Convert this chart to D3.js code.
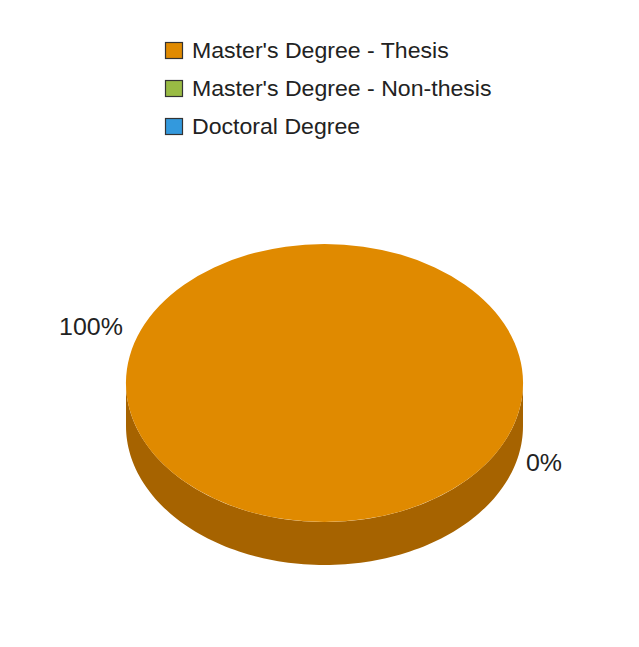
<!DOCTYPE html>
<html>
<head>
<meta charset="utf-8">
<script src="https://cdn.jsdelivr.net/npm/d3@7"></script>
<style>
  html, body { margin: 0; padding: 0; background: #ffffff; }
  svg { display: block; }
</style>
</head>
<body>
<script>
// ---- data ----
const categories = ["Master's Degree - Thesis", "Master's Degree - Non-thesis", "Doctoral Degree"];
const values = [100, 0, 0];
const sliceLabels = ["100%", "0%", "0%"];
const colors = ["#E08A00", "#99BB44", "#3399DD"];
const sideColors = ["#A66300", "#6E8A2E", "#2270A8"];

// ---- layout ----
const W = 639, H = 647;
const cx = 324.5, cy = 383, rx = 198.5, ry = 139, depth = 43;

const svg = d3.select("body").append("svg").attr("width", W).attr("height", H);

const pieData = d3.pie().sort(null).value(d => d)(values);

// map an angle (clockwise from 12 o'clock) onto the ellipse
const ex = a => cx + rx * Math.sin(a);
const ey = a => cy - ry * Math.cos(a);

const lineGen = d3.line();

// sides (front half visible: angles between PI/2 and 3PI/2)
pieData.forEach((p, i) => {
  const a0 = Math.max(p.startAngle, Math.PI / 2);
  const a1 = Math.min(p.endAngle, 3 * Math.PI / 2);
  if (a1 <= a0) return;
  const n = 120;
  const ts = d3.range(n + 1).map(k => a0 + (a1 - a0) * k / n);
  const pts = ts.map(a => [ex(a), ey(a)])
    .concat(ts.slice().reverse().map(a => [ex(a), ey(a) + depth]));
  svg.append("path")
    .attr("d", lineGen(pts) + "Z")
    .attr("fill", sideColors[i]);
});

// top faces
const arcGen = d3.arc().innerRadius(0).outerRadius(rx);
const topFace = svg.append("g")
  .attr("transform", `translate(${cx},${cy}) scale(1,${ry / rx})`);
pieData.forEach((p, i) => {
  if (p.endAngle - p.startAngle <= 0) return;
  topFace.append("path").attr("d", arcGen(p)).attr("fill", colors[i]);
});

// slice labels
const labelPos = [
  { x: cx - rx - 35, y: cy - 56 },
  { x: cx + rx + 21, y: cy + 80 }
];
labelPos.forEach((lp, i) => {
  svg.append("text")
    .attr("transform", `translate(${lp.x},${lp.y}) scale(1.04,1)`)
    .attr("text-anchor", "middle")
    .attr("dominant-baseline", "central")
    .attr("font-family", "Liberation Sans, Arial, sans-serif")
    .attr("font-size", 24)
    .attr("fill", "#222")
    .text(sliceLabels[i]);
});

// legend
const legend = svg.append("g").attr("transform", "translate(165,42)");
const rowH = 38;
categories.forEach((c, i) => {
  const g = legend.append("g").attr("transform", `translate(0,${i * rowH})`);
  g.append("rect")
    .attr("x", 0.5).attr("y", 0.5)
    .attr("width", 17).attr("height", 16)
    .attr("fill", colors[i])
    .attr("stroke", "#333").attr("stroke-width", 1.2);
  g.append("text")
    .attr("transform", "translate(27,8.5) scale(1.05,1)")
    .attr("dominant-baseline", "central")
    .attr("font-family", "Liberation Sans, Arial, sans-serif")
    .attr("font-size", 22)
    .attr("fill", "#222")
    .text(c);
});
</script>
</body>
</html>
